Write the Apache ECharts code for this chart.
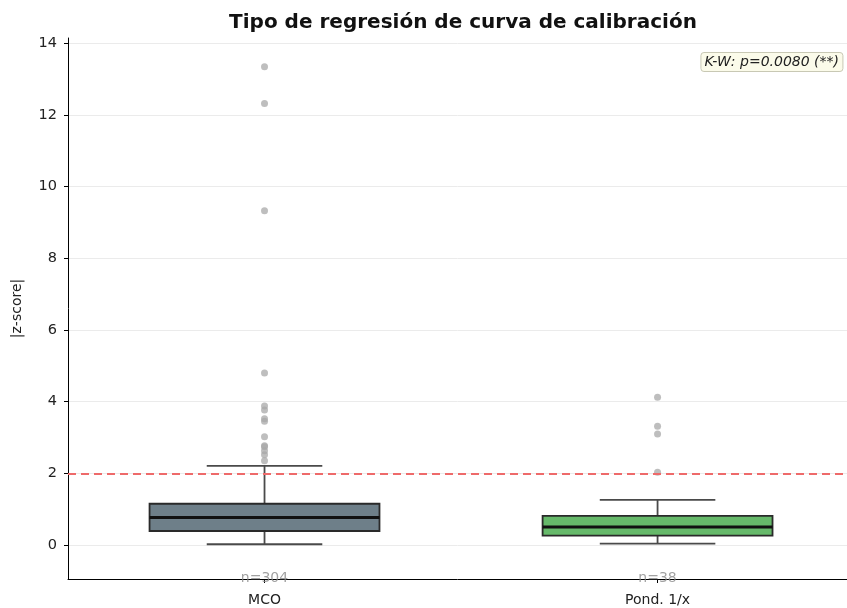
<!DOCTYPE html>
<html>
<head>
<meta charset="utf-8">
<script src="https://cdn.jsdelivr.net/npm/echarts@6/dist/echarts.min.js"></script>
<style>
  html, body { margin: 0; padding: 0; background: #fff; }
  #chart { width: 847px; height: 608px; }
</style>
</head>
<body>
<div id="chart"></div>
<script>
// categorías y estadísticos de caja (mín, Q1, mediana, Q3, máx de bigotes)
const categories = ['MCO', 'Pond. 1/x']
const boxStats = [
  [0.02, 0.39, 0.77, 1.15, 2.21],
  [0.04, 0.26, 0.50, 0.81, 1.26]
]
const boxColors = ['#6e7f89', '#66b96a']
const nCounts = [304, 38]

// valores atípicos por categoría
const outliersMCO = [13.35, 12.32, 9.33, 4.80, 3.88, 3.77, 3.52, 3.45, 3.02, 2.77, 2.74, 2.63, 2.52, 2.35]
const outliersPond = [4.12, 3.31, 3.10, 2.03]

const yTicks = [0, 2, 4, 6, 8, 10, 12, 14]
const xTicks = [0, 1]
const threshold = 2
const kwText = 'K-W: p=0.0080 (**)'

const outlierData = []
outliersMCO.forEach(v => outlierData.push([0, v]))
outliersPond.forEach(v => outlierData.push([1, v]))

const boxData = boxStats.map((s, i) => [i].concat(s))

const renderBox = (params, api) => {
  const idx = api.value(0)
  const unit = api.size([1, 0])[0]
  const half = unit * 0.585 / 2
  const capHalf = unit * 0.147
  const pLow = api.coord([idx, api.value(1)])
  const pQ1 = api.coord([idx, api.value(2)])
  const pMed = api.coord([idx, api.value(3)])
  const pQ3 = api.coord([idx, api.value(4)])
  const pHigh = api.coord([idx, api.value(5)])
  const x = pQ1[0]
  const lineStyle = { stroke: '#4a4a4a', lineWidth: 1.8 }
  return {
    type: 'group',
    children: [
      { type: 'line', shape: { x1: x, y1: pQ3[1], x2: x, y2: pHigh[1] }, style: lineStyle },
      { type: 'line', shape: { x1: x, y1: pQ1[1], x2: x, y2: pLow[1] }, style: lineStyle },
      { type: 'line', shape: { x1: x - capHalf, y1: pHigh[1], x2: x + capHalf, y2: pHigh[1] }, style: lineStyle },
      { type: 'line', shape: { x1: x - capHalf, y1: pLow[1], x2: x + capHalf, y2: pLow[1] }, style: lineStyle },
      {
        type: 'rect',
        shape: { x: x - half, y: pQ3[1], width: half * 2, height: pQ1[1] - pQ3[1] },
        style: { fill: boxColors[params.dataIndex], stroke: '#2a2a2a', lineWidth: 1.8 }
      },
      { type: 'line', shape: { x1: x - half, y1: pMed[1], x2: x + half, y2: pMed[1] }, style: { stroke: '#111', lineWidth: 3 } }
    ]
  }
}

const chart = echarts.init(document.getElementById('chart'))

const option = {
  animation: false,
  textStyle: { fontFamily: 'DejaVu Sans' },
  title: [
    {
      text: 'Tipo de regresión de curva de calibración',
      left: 458,
      top: 8,
      textAlign: 'center',
      textStyle: { fontSize: 20, fontWeight: 'bold', color: '#111', fontFamily: 'DejaVu Sans' }
    },
    {
      text: kwText,
      right: 4,
      top: 52,
      padding: [3, 4, 3, 4],
      backgroundColor: '#fbfbea',
      borderColor: '#c8c8b4',
      borderWidth: 1,
      borderRadius: 3,
      textStyle: { fontSize: 14, fontStyle: 'italic', fontWeight: 'normal', color: '#222', fontFamily: 'DejaVu Sans' }
    }
  ],
  grid: { left: 68, top: 38, right: 0, bottom: 29 },
  xAxis: {
    type: 'value',
    min: -0.5,
    max: 1.482,
    axisLine: { onZero: false, lineStyle: { color: '#000', width: 1 } },
    axisTick: { length: 4, lineStyle: { color: '#000' }, customValues: xTicks },
    axisLabel: {
      color: '#222',
      fontSize: 14,
      margin: 14,
      customValues: xTicks,
      formatter: v => categories[Math.round(v)]
    },
    splitLine: { show: false }
  },
  yAxis: {
    type: 'value',
    min: -0.95,
    max: 14.15,
    name: '|z-score|',
    nameLocation: 'middle',
    nameGap: 44,
    nameTextStyle: { fontSize: 14, color: '#222' },
    axisLine: { show: true, onZero: false, lineStyle: { color: '#000', width: 1 } },
    axisTick: { show: true, length: 4, lineStyle: { color: '#000' }, customValues: yTicks },
    axisLabel: { color: '#222', fontSize: 14.5, margin: 11, customValues: yTicks },
    splitLine: { show: true, lineStyle: { color: '#ebebeb', width: 1 } }
  },
  series: [
    {
      type: 'custom',
      renderItem: renderBox,
      data: boxData,
      encode: { x: 0, y: [1, 2, 3, 4, 5] },
      z: 3
    },
    {
      type: 'scatter',
      data: outlierData,
      symbolSize: 7,
      itemStyle: { color: '#a8a8a8', opacity: 0.75 },
      z: 4
    },
    {
      type: 'scatter',
      data: categories.map((c, i) => [i, -0.92]),
      symbolSize: 0,
      label: {
        show: true,
        position: 'inside',
        formatter: p => 'n=' + nCounts[p.dataIndex],
        color: '#8a8a8a',
        fontSize: 14
      },
      markLine: {
        silent: true,
        symbol: 'none',
        label: { show: false },
        lineStyle: { color: '#ee6a6a', type: [8, 5], width: 2 },
        data: [{ yAxis: threshold }]
      },
      z: 5
    }
  ]
}

chart.setOption(option)
</script>
</body>
</html>
